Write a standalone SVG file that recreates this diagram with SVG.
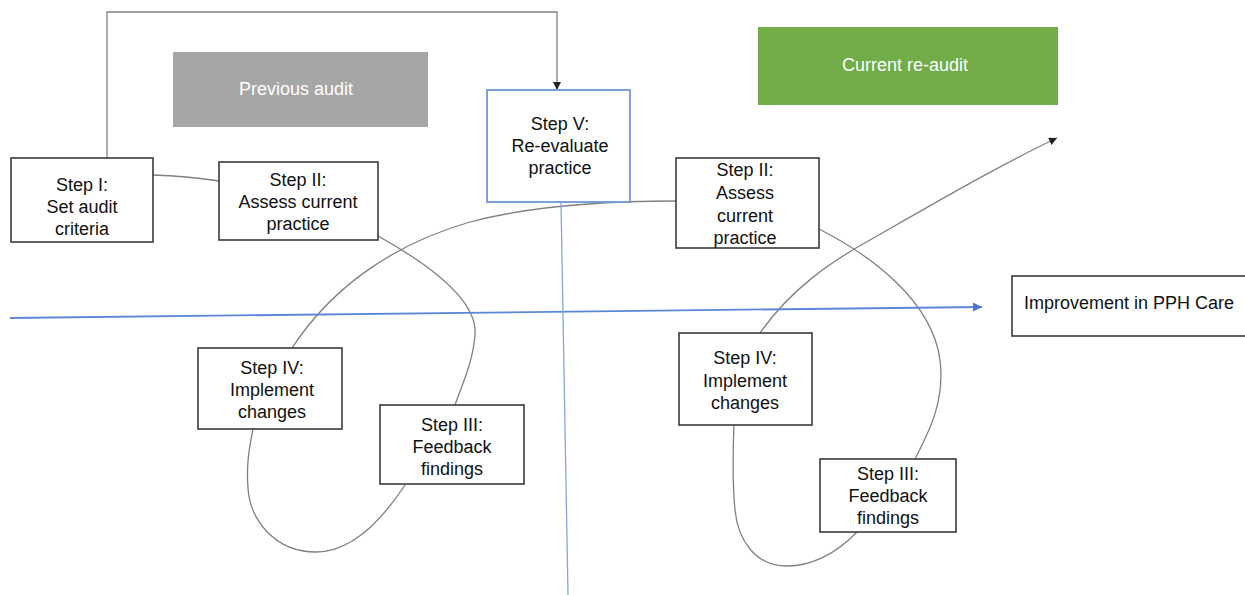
<svg xmlns="http://www.w3.org/2000/svg" width="1245" height="595" viewBox="0 0 1245 595">
<style>
.box{fill:#fff;stroke:#3a3a3a;stroke-width:1.6}
.vbox{fill:#fff;stroke:#6f97d8;stroke-width:1.8}
.t{font-family:"Liberation Sans",Arial,sans-serif;font-size:18px;fill:#111;text-anchor:middle}
.w{font-family:"Liberation Sans",Arial,sans-serif;font-size:18px;fill:#fff;text-anchor:middle}
.c{fill:none;stroke:#808080;stroke-width:1.3}
.b{fill:none;stroke:#5b87d6;stroke-width:1.8}
.bv{fill:none;stroke:#86a5de;stroke-width:1.3}
</style>
<defs>
<marker id="ah" viewBox="0 0 10 10" refX="10" refY="5" markerWidth="8" markerHeight="8" markerUnits="userSpaceOnUse" orient="auto"><path d="M0,0 L10,5 L0,10 z" fill="#222"/></marker>
<marker id="bh" viewBox="0 0 10 10" refX="10" refY="5" markerWidth="10" markerHeight="9" markerUnits="userSpaceOnUse" orient="auto"><path d="M0,0 L10,5 L0,10 z" fill="#4a78cc"/></marker>
</defs>
<rect width="1245" height="595" fill="#fff"/>
<g id="connectors">
<path class="c" d="M107,158 V12 H557 V90" marker-end="url(#ah)"/>
<path class="c" d="M153,175 Q186,176 219,181"/>
<path class="c" d="M378,236 C430,265 478,300 475,335 C473,362 462,385 455,405"/>
<path class="c" d="M405,485 C382,520 352,552 316,552 C275,552 250,520 248,488 C246,462 250,445 253,429"/>
<path class="c" d="M292,348 C330,290 390,245 470,222 C530,206 600,201 676,201"/>
<path class="c" d="M819,229 C870,255 932,300 940,360 C945,400 930,430 915,459"/>
<path class="c" d="M857,532 C835,555 810,566 787,566 C755,566 738,540 735,510 C732,480 733,450 734,425"/>
<path class="c" d="M760,333 C790,290 830,262 870,240 C940,200 1000,165 1057,138" marker-end="url(#ah)"/>
<path class="b" d="M10,318 L982,307" marker-end="url(#bh)"/>
<path class="bv" d="M561,202 L568,595"/>
</g>
<g id="prev-audit"><rect x="173" y="52" width="255" height="75" fill="#a6a6a6"/><text class="w" x="296" y="95">Previous audit</text></g>
<g id="current-reaudit"><rect x="758" y="27" width="300" height="78" fill="#70ad47"/><text class="w" x="905" y="71">Current re-audit</text></g>
<g id="step5"><rect class="vbox" x="487" y="90" width="143" height="112"/><text class="t" x="560" y="130">Step V:</text><text class="t" x="560" y="152">Re-evaluate</text><text class="t" x="560" y="174">practice</text></g>
<g id="step1"><rect class="box" x="11" y="158" width="142" height="84"/><text class="t" x="82" y="191">Step I:</text><text class="t" x="82" y="213">Set audit</text><text class="t" x="82" y="235">criteria</text></g>
<g id="step2a"><rect class="box" x="219" y="162" width="159" height="78"/><text class="t" x="298" y="186">Step II:</text><text class="t" x="298" y="208">Assess current</text><text class="t" x="298" y="230">practice</text></g>
<g id="step2b"><rect class="box" x="676" y="158" width="143" height="90"/><text class="t" x="745" y="176">Step II:</text><text class="t" x="745" y="199">Assess</text><text class="t" x="745" y="222">current</text><text class="t" x="745" y="244">practice</text></g>
<g id="improvement"><rect class="box" x="1012" y="276" width="236" height="60"/><text class="t" x="1129" y="309">Improvement in PPH Care</text></g>
<g id="step4a"><rect class="box" x="198" y="348" width="144" height="81"/><text class="t" x="272" y="374">Step IV:</text><text class="t" x="272" y="396">Implement</text><text class="t" x="272" y="418">changes</text></g>
<g id="step3a"><rect class="box" x="380" y="405" width="144" height="79"/><text class="t" x="452" y="431">Step III:</text><text class="t" x="452" y="453">Feedback</text><text class="t" x="452" y="475">findings</text></g>
<g id="step4b"><rect class="box" x="679" y="333" width="133" height="92"/><text class="t" x="745" y="364">Step IV:</text><text class="t" x="745" y="387">Implement</text><text class="t" x="745" y="409">changes</text></g>
<g id="step3b"><rect class="box" x="820" y="459" width="136" height="73"/><text class="t" x="888" y="480">Step III:</text><text class="t" x="888" y="502">Feedback</text><text class="t" x="888" y="524">findings</text></g>
</svg>
